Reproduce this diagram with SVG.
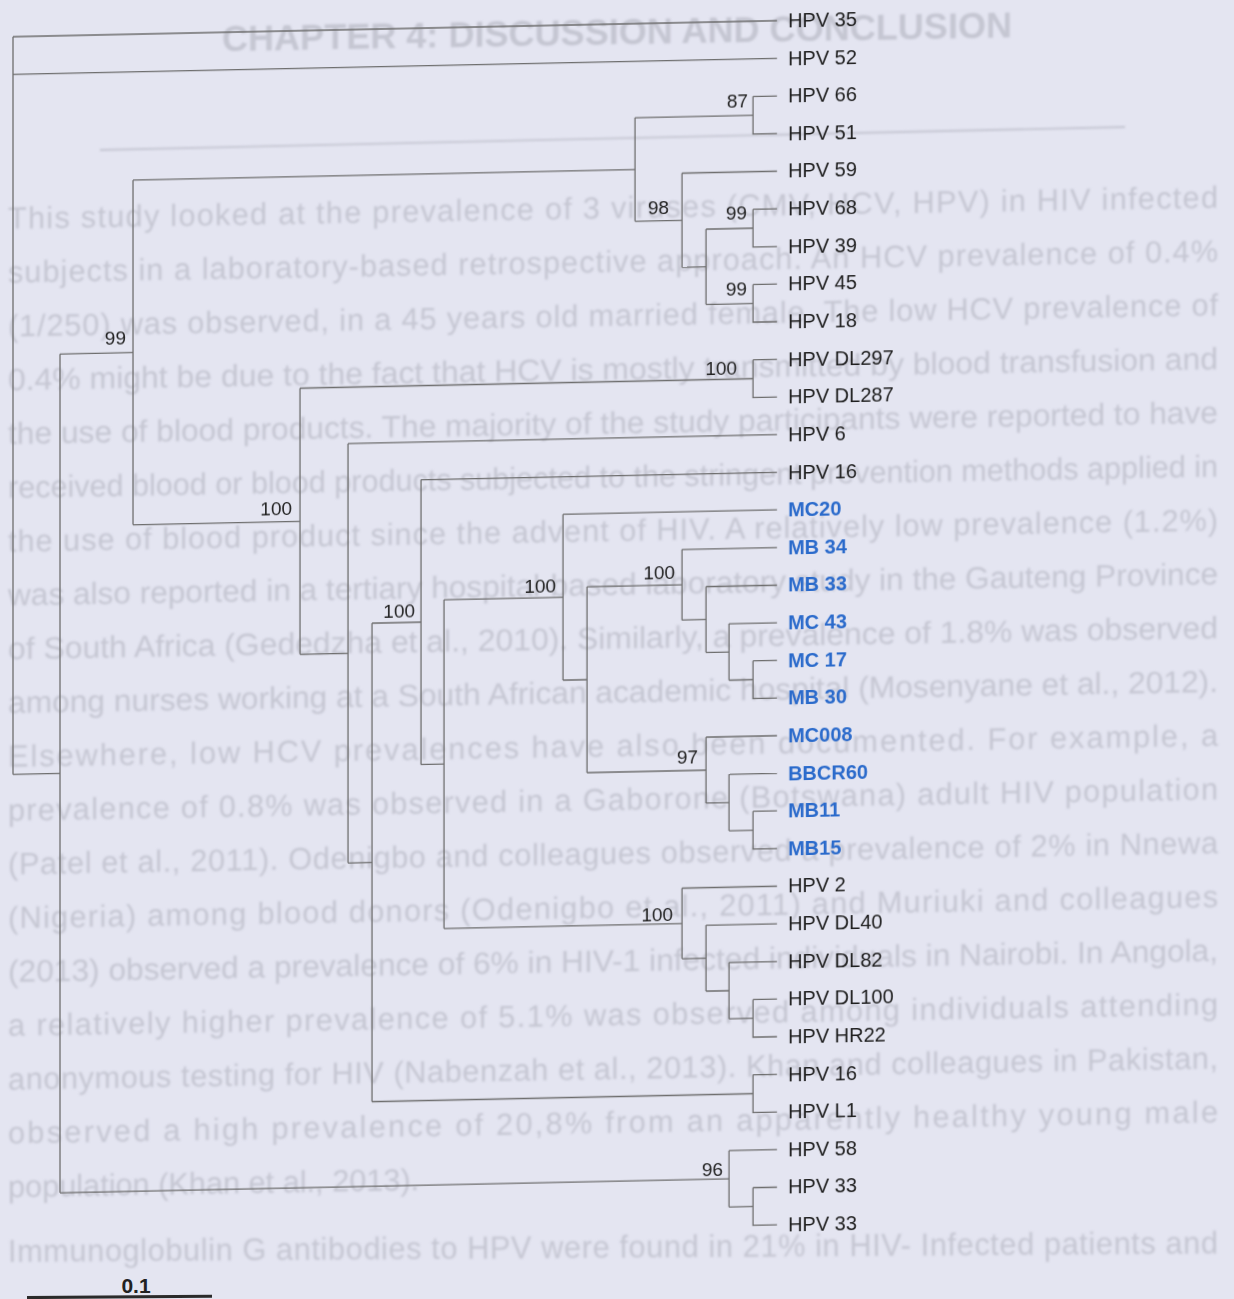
<svg xmlns="http://www.w3.org/2000/svg" width="1234" height="1299" viewBox="0 0 1234 1299">
<defs>
<style>
.ghost{font-family:"Liberation Sans",Arial,sans-serif;font-size:30.7px;fill:#c5c6d2}
.ghostT{font-family:"Liberation Sans",Arial,sans-serif;font-size:36px;font-weight:bold;fill:#c5c6d2}
.br{fill:none;stroke:#6e6e6e;stroke-width:1.3}
.lf{font-family:"Liberation Sans",Arial,sans-serif;font-size:20px;fill:#1c1c1c}
.lb{font-family:"Liberation Sans",Arial,sans-serif;font-size:20px;font-weight:bold;fill:#2a6acb}
.bs{font-family:"Liberation Sans",Arial,sans-serif;font-size:19px;fill:#222;text-anchor:end}
</style>
<filter id="soft" x="-5%" y="-50%" width="110%" height="200%"><feGaussianBlur stdDeviation="0.9"/></filter>
</defs>
<rect width="1234" height="1299" fill="#e4e5f1"/>

<g id="background-page" filter="url(#soft)">
<g transform="matrix(1,-0.0175,0,1,0,0)">
<text class="ghostT" x="222" y="55" textLength="790" lengthAdjust="spacingAndGlyphs">CHAPTER 4: DISCUSSION AND CONCLUSION</text>
<text class="ghost" x="8" y="229" textLength="1210" lengthAdjust="spacing">This study looked at the prevalence of 3 viruses (CMV, HCV, HPV) in HIV infected</text>
<text class="ghost" x="8" y="282.8" textLength="1210" lengthAdjust="spacing">subjects in a laboratory-based retrospective approach. An HCV prevalence of 0.4%</text>
<text class="ghost" x="8" y="336.6" textLength="1210" lengthAdjust="spacing">(1/250) was observed, in a 45 years old married female. The low HCV prevalence of</text>
<text class="ghost" x="8" y="390.4" textLength="1210" lengthAdjust="spacingAndGlyphs">0.4% might be due to the fact that HCV is mostly transmitted by blood transfusion and</text>
<text class="ghost" x="8" y="444.2" textLength="1210" lengthAdjust="spacingAndGlyphs">the use of blood products. The majority of the study participants were reported to have</text>
<text class="ghost" x="8" y="498" textLength="1210" lengthAdjust="spacingAndGlyphs">received blood or blood products subjected to the stringent prevention methods applied in</text>
<text class="ghost" x="8" y="551.8" textLength="1210" lengthAdjust="spacing">the use of blood product since the advent of HIV. A relatively low prevalence (1.2%)</text>
<text class="ghost" x="8" y="605.6" textLength="1210" lengthAdjust="spacingAndGlyphs">was also reported in a tertiary hospital-based laboratory study in the Gauteng Province</text>
<text class="ghost" x="8" y="659.4" textLength="1210" lengthAdjust="spacingAndGlyphs">of South Africa (Gededzha et al., 2010). Similarly, a prevalence of 1.8% was observed</text>
<text class="ghost" x="8" y="713.2" textLength="1210" lengthAdjust="spacingAndGlyphs">among nurses working at a South African academic hospital (Mosenyane et al., 2012).</text>
<text class="ghost" x="8" y="767" textLength="1210" lengthAdjust="spacing">Elsewhere, low HCV prevalences have also been documented. For example, a</text>
<text class="ghost" x="8" y="820.8" textLength="1210" lengthAdjust="spacing">prevalence of 0.8% was observed in a Gaborone (Botswana) adult HIV population</text>
<text class="ghost" x="8" y="874.6" textLength="1210" lengthAdjust="spacing">(Patel et al., 2011). Odenigbo and colleagues observed a prevalence of 2% in Nnewa</text>
<text class="ghost" x="8" y="928.4" textLength="1210" lengthAdjust="spacing">(Nigeria) among blood donors (Odenigbo et al., 2011) and Muriuki and colleagues</text>
<text class="ghost" x="8" y="982.2" textLength="1210" lengthAdjust="spacingAndGlyphs">(2013) observed a prevalence of 6% in HIV-1 infected individuals in Nairobi. In Angola,</text>
<text class="ghost" x="8" y="1036" textLength="1210" lengthAdjust="spacing">a relatively higher prevalence of 5.1% was observed among individuals attending</text>
<text class="ghost" x="8" y="1089.8" textLength="1210" lengthAdjust="spacing">anonymous testing for HIV (Nabenzah et al., 2013). Khan and colleagues in Pakistan,</text>
<text class="ghost" x="8" y="1143.6" textLength="1210" lengthAdjust="spacing">observed a high prevalence of 20,8%  from an apparently healthy young male</text>
<text class="ghost" x="8" y="1197.4">population (Khan et al., 2013).</text>
</g>
<line x1="100" y1="150" x2="1125" y2="127" stroke="#c4c5d1" stroke-width="1.8"/>
<text class="ghost" x="8" y="1262" textLength="1210" lengthAdjust="spacing" transform="rotate(-0.4 8 1262)">Immunoglobulin G antibodies to HPV were found in 21% in HIV- Infected patients and</text>
</g>

<g transform="matrix(1,-0.021,0,1,0,0)">
<g id="branches" class="br">
<path id="n-root" d="M13,37 V774.7 M13,37 H777 M13,74.6 H777 M13,774.7 H60"/>
<path id="n-A" d="M60,355.3 V1194.1 M60,355.3 H133 M60,1194.1 H729"/>
<path id="n-B" d="M133,182.9 V527.6 M133,182.9 H635 M133,527.6 H300"/>
<path id="n-D" d="M635,131.1 V234.6 M635,131.1 H753 M635,234.6 H682"/>
<path id="n-F" d="M753,112.3 V149.9 H777 M753,112.3 H777"/>
<path id="n-G" d="M682,187.5 V281.7 M682,187.5 H777 M682,281.7 H706"/>
<path id="n-H" d="M706,244 V319.3 M706,244 H753 M706,319.3 H753"/>
<path id="n-I" d="M753,225.2 V262.8 H777 M753,225.2 H777"/>
<path id="n-J" d="M753,300.4 V338 H777 M753,300.4 H777"/>
<path id="n-E" d="M300,394.5 V660.6 M300,394.5 H753 M300,660.6 H348"/>
<path id="n-K" d="M753,375.7 V413.3 H777 M753,375.7 H777"/>
<path id="n-L" d="M348,450.9 V870.3 M348,450.9 H777 M348,870.3 H372"/>
<path id="n-M" d="M372,631 V1109.5 M372,631 H421 M372,1109.5 H753"/>
<path id="n-N" d="M421,488.6 V773.4 M421,488.6 H777 M421,773.4 H444"/>
<path id="n-P" d="M444,609.1 V937.8 M444,609.1 H563 M444,937.8 H682"/>
<path id="n-Q" d="M563,526.2 V692 M563,526.2 H777 M563,692 H587"/>
<path id="n-S" d="M587,599.1 V785 M587,599.1 H682 M587,785 H706"/>
<path id="n-T" d="M682,563.8 V634.4 M682,563.8 H777 M682,634.4 H706"/>
<path id="n-V" d="M706,601.5 V667.3 M706,601.5 H777 M706,667.3 H729"/>
<path id="n-W" d="M729,639.1 V695.5 M729,639.1 H777 M729,695.5 H753"/>
<path id="n-X" d="M753,676.7 V714.3 H777 M753,676.7 H777"/>
<path id="n-U" d="M706,752 V817.9 M706,752 H777 M706,817.9 H729"/>
<path id="n-Y" d="M729,789.6 V846.1 M729,789.6 H777 M729,846.1 H753"/>
<path id="n-Z" d="M753,827.2 V864.9 H777 M753,827.2 H777"/>
<path id="n-R" d="M682,902.5 V973.1 M682,902.5 H777 M682,973.1 H706"/>
<path id="n-AA" d="M706,940.1 V1006 M706,940.1 H777 M706,1006 H729"/>
<path id="n-AB" d="M729,977.8 V1034.2 M729,977.8 H777 M729,1034.2 H753"/>
<path id="n-AC" d="M753,1015.4 V1053 H777 M753,1015.4 H777"/>
<path id="n-O" d="M753,1090.6 V1128.3 H777 M753,1090.6 H777"/>
<path id="n-C" d="M729,1165.9 V1222.3 M729,1165.9 H777 M729,1222.3 H753"/>
<path id="n-AD" d="M753,1203.5 V1241.2 H777 M753,1203.5 H777"/>
</g>

<g id="bootstrap">
<g id="bs-B"><text class="bs" x="126" y="347.4">99</text></g>
<g id="bs-G"><text class="bs" x="669" y="227.8">98</text></g>
<g id="bs-F"><text class="bs" x="748" y="123.5">87</text></g>
<g id="bs-I"><text class="bs" x="747" y="235.5">99</text></g>
<g id="bs-J"><text class="bs" x="747" y="311.5">99</text></g>
<g id="bs-K"><text class="bs" x="737" y="390.2">100</text></g>
<g id="bs-E"><text class="bs" x="292" y="520.8">100</text></g>
<g id="bs-N"><text class="bs" x="415" y="626.4">100</text></g>
<g id="bs-Q"><text class="bs" x="556" y="604.3">100</text></g>
<g id="bs-T"><text class="bs" x="675" y="592.8">100</text></g>
<g id="bs-U"><text class="bs" x="698" y="778.4">97</text></g>
<g id="bs-R"><text class="bs" x="673" y="935.5">100</text></g>
<g id="bs-C"><text class="bs" x="723" y="1191">96</text></g>
</g>

<g id="leaves">
<g id="leaf-hpv35"><text class="lf" x="788" y="44">HPV 35</text></g>
<g id="leaf-hpv52"><text class="lf" x="788" y="81.6">HPV 52</text></g>
<g id="leaf-hpv66"><text class="lf" x="788" y="119.3">HPV 66</text></g>
<g id="leaf-hpv51"><text class="lf" x="788" y="156.9">HPV 51</text></g>
<g id="leaf-hpv59"><text class="lf" x="788" y="194.5">HPV 59</text></g>
<g id="leaf-hpv68"><text class="lf" x="788" y="232.2">HPV 68</text></g>
<g id="leaf-hpv39"><text class="lf" x="788" y="269.8">HPV 39</text></g>
<g id="leaf-hpv45"><text class="lf" x="788" y="307.4">HPV 45</text></g>
<g id="leaf-hpv18"><text class="lf" x="788" y="345">HPV 18</text></g>
<g id="leaf-hpvdl297"><text class="lf" x="788" y="382.7">HPV DL297</text></g>
<g id="leaf-hpvdl287"><text class="lf" x="788" y="420.3">HPV DL287</text></g>
<g id="leaf-hpv6"><text class="lf" x="788" y="457.9">HPV 6</text></g>
<g id="leaf-hpv16a"><text class="lf" x="788" y="495.6">HPV 16</text></g>
<g id="leaf-mc20"><text class="lb" x="788" y="533.2">MC20</text></g>
<g id="leaf-mb34"><text class="lb" x="788" y="570.8">MB 34</text></g>
<g id="leaf-mb33"><text class="lb" x="788" y="608.5">MB 33</text></g>
<g id="leaf-mc43"><text class="lb" x="788" y="646.1">MC 43</text></g>
<g id="leaf-mc17"><text class="lb" x="788" y="683.7">MC 17</text></g>
<g id="leaf-mb30"><text class="lb" x="788" y="721.3">MB 30</text></g>
<g id="leaf-mc008"><text class="lb" x="788" y="759">MC008</text></g>
<g id="leaf-bbcr60"><text class="lb" x="788" y="796.6">BBCR60</text></g>
<g id="leaf-mb11"><text class="lb" x="788" y="834.2">MB11</text></g>
<g id="leaf-mb15"><text class="lb" x="788" y="871.9">MB15</text></g>
<g id="leaf-hpv2"><text class="lf" x="788" y="909.5">HPV 2</text></g>
<g id="leaf-hpvdl40"><text class="lf" x="788" y="947.1">HPV DL40</text></g>
<g id="leaf-hpvdl82"><text class="lf" x="788" y="984.8">HPV DL82</text></g>
<g id="leaf-hpvdl100"><text class="lf" x="788" y="1022.4">HPV DL100</text></g>
<g id="leaf-hpvhr22"><text class="lf" x="788" y="1060">HPV HR22</text></g>
<g id="leaf-hpv16b"><text class="lf" x="788" y="1097.6">HPV 16</text></g>
<g id="leaf-hpvl1"><text class="lf" x="788" y="1135.3">HPV L1</text></g>
<g id="leaf-hpv58"><text class="lf" x="788" y="1172.9">HPV 58</text></g>
<g id="leaf-hpv33a"><text class="lf" x="788" y="1210.5">HPV 33</text></g>
<g id="leaf-hpv33b"><text class="lf" x="788" y="1248.2">HPV 33</text></g>
</g>
</g>

<g id="scale-bar">
<line x1="27" y1="1297.6" x2="212" y2="1296.2" stroke="#2a2a2a" stroke-width="3"/>
<text x="136" y="1293" text-anchor="middle" font-family="'Liberation Sans',Arial,sans-serif" font-size="21" font-weight="bold" fill="#222">0.1</text>
</g>
</svg>
